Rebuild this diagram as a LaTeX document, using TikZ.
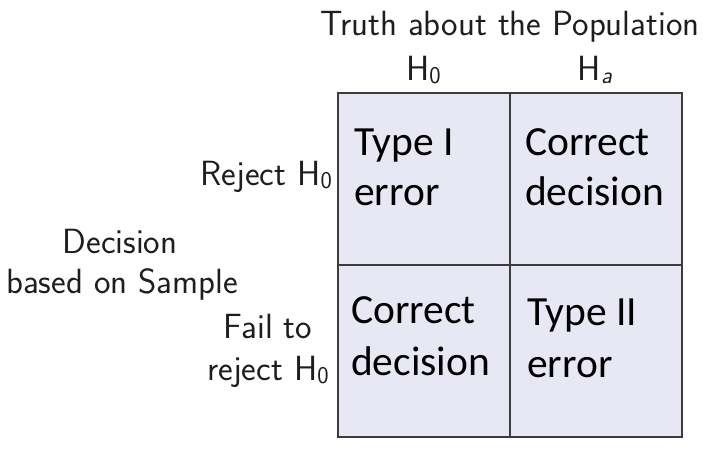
\documentclass[tikz,border=0pt]{standalone}
\usepackage{fontspec}
\newfontfamily\cellfont{Carlito}
\definecolor{cellfill}{RGB}{232,232,245}
\definecolor{gridline}{RGB}{60,60,60}
\definecolor{labtext}{RGB}{30,30,30}
\newcommand{\mysub}[1]{\raisebox{-3pt}{\fontsize{24}{24}\selectfont #1}}
\begin{document}
\begin{tikzpicture}[x=1pt,y=-1pt,
  lab/.style={inner sep=0pt,text=labtext,font=\sffamily\fontsize{35}{42}\selectfont},
  cell/.style={inner sep=0pt,text=black,font=\cellfont\fontsize{41.5}{50}\selectfont},
  box/.style={draw=gridline,line width=1.8pt,fill=cellfill}]
\useasboundingbox (0,0) rectangle (708,456);
% grid
\node[box,minimum width=172pt,minimum height=172pt,anchor=north west] (c11) at (337,92) {};
\node[box,minimum width=172pt,minimum height=172pt,anchor=north west] (c12) at (509,92) {};
\node[box,minimum width=172pt,minimum height=172pt,anchor=north west] (c21) at (337,264) {};
\node[box,minimum width=172pt,minimum height=172pt,anchor=north west] (c22) at (509,264) {};
% cell texts
\node[cell,anchor=base west] (t11a) at (354,155) {Type I};
\node[cell,anchor=base west] (t11b) at (354,205) {error};
\node[cell,anchor=base west] (t12a) at (525,155) {Correct};
\node[cell,anchor=base west] (t12b) at (525,205) {decision};
\node[cell,anchor=base west] (t21a) at (351,323) {Correct};
\node[cell,anchor=base west] (t21b) at (351,375) {decision};
\node[cell,anchor=base west] (t22a) at (527,325) {Type II};
\node[cell,anchor=base west] (t22b) at (527,377) {error};
% top labels
\node[lab,anchor=base] (truth) at (510,35) {Truth about the Population};
\node[lab,anchor=base] (h0) at (423.5,80) {H\mysub{0}};
\node[lab,anchor=base] (ha) at (595,80) {H\mysub{\slshape a}};
% left labels
\node[lab,anchor=base east] (rej) at (332,185) {Reject H\mysub{0}};
\node[lab,anchor=base] (dec) at (120,253) {Decision};
\node[lab,anchor=base] (based) at (122,293) {based on Sample};
\node[lab,anchor=base] (fail) at (268,338) {Fail to};
\node[lab,anchor=base] (rej2) at (268,380) {reject H\mysub{0}};
\end{tikzpicture}
\end{document}
